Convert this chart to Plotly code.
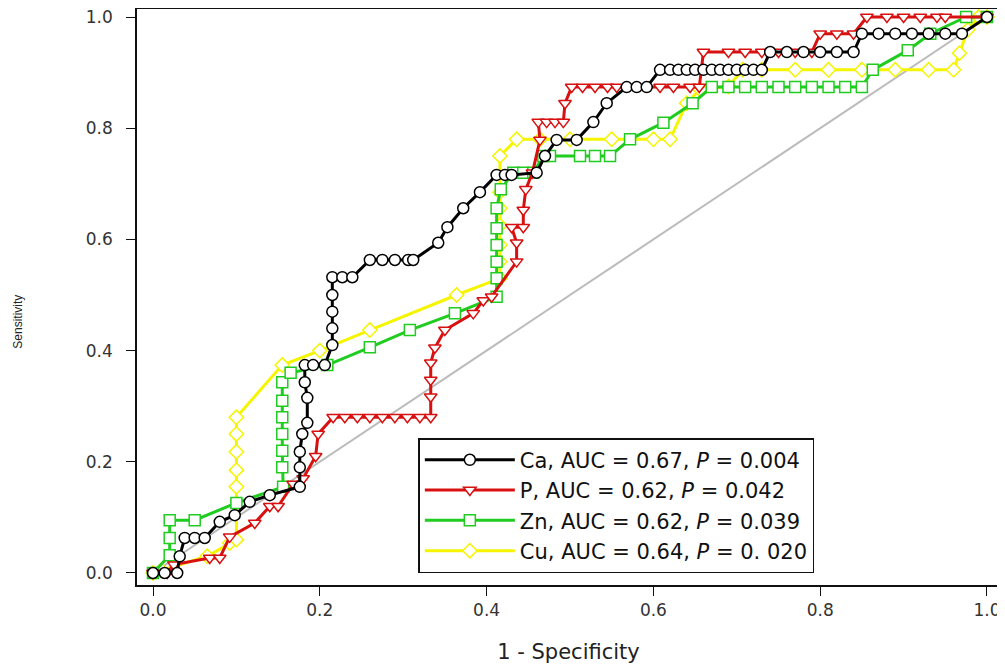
import plotly.graph_objects as go

# ---- data (1 - specificity, sensitivity) ----
ca_fpr = [0.0, 0.014, 0.029, 0.032, 0.038, 0.05, 0.062, 0.08, 0.098, 0.116, 0.14, 0.176, 0.176, 0.176,
          0.179, 0.185, 0.185, 0.182, 0.182, 0.192, 0.206, 0.215, 0.215, 0.215, 0.215, 0.215,
          0.227, 0.239, 0.26, 0.275, 0.29, 0.306, 0.312, 0.342, 0.353, 0.372, 0.392, 0.412, 0.422,
          0.43, 0.46, 0.47, 0.484, 0.508, 0.528, 0.544, 0.568, 0.58, 0.592, 0.608, 0.62, 0.63, 0.64,
          0.65, 0.66, 0.67, 0.68, 0.69, 0.70, 0.71, 0.72, 0.73, 0.74, 0.76, 0.78, 0.80, 0.82, 0.84,
          0.85, 0.87, 0.89, 0.91, 0.93, 0.95, 0.97, 1.0]
ca_tpr = [0.0, 0.0, 0.0, 0.03, 0.063, 0.063, 0.063, 0.092, 0.104, 0.128, 0.14, 0.155, 0.19, 0.218,
          0.25, 0.27, 0.315, 0.343, 0.374, 0.374, 0.374, 0.41, 0.44, 0.47, 0.50, 0.532,
          0.532, 0.532, 0.563, 0.563, 0.563, 0.563, 0.563, 0.594, 0.622, 0.656, 0.685, 0.716, 0.716,
          0.716, 0.72, 0.75, 0.779, 0.779, 0.811, 0.845, 0.874, 0.874, 0.874, 0.905, 0.905, 0.905, 0.905,
          0.905, 0.905, 0.905, 0.905, 0.905, 0.905, 0.905, 0.905, 0.905, 0.937, 0.937, 0.937, 0.937, 0.937, 0.937,
          0.97, 0.97, 0.97, 0.97, 0.97, 0.97, 0.97, 1.0]

p_fpr = [0.0, 0.017, 0.025, 0.068, 0.08, 0.092, 0.122, 0.14, 0.15, 0.168, 0.18, 0.195, 0.198, 0.216,
         0.23, 0.245, 0.26, 0.275, 0.29, 0.305, 0.32, 0.333, 0.333, 0.333, 0.333, 0.338, 0.35,
         0.384, 0.396, 0.406, 0.436, 0.436, 0.43, 0.444, 0.444, 0.447, 0.455, 0.464, 0.462, 0.472,
         0.482, 0.492, 0.494, 0.502, 0.515, 0.53, 0.545, 0.556, 0.608, 0.624, 0.644, 0.655, 0.66,
         0.69, 0.71, 0.73, 0.75, 0.77, 0.79, 0.80, 0.82, 0.84, 0.856, 0.88, 0.90, 0.92, 0.94, 0.95, 1.0]
p_tpr = [0.0, 0.0, 0.015, 0.027, 0.027, 0.065, 0.09, 0.12, 0.12, 0.16, 0.17, 0.21, 0.25, 0.28,
         0.28, 0.28, 0.28, 0.28, 0.28, 0.28, 0.28, 0.28, 0.317, 0.347, 0.378, 0.405, 0.437,
         0.467, 0.49, 0.497, 0.56, 0.594, 0.622, 0.622, 0.653, 0.69, 0.72, 0.779, 0.811, 0.811,
         0.811, 0.811, 0.845, 0.874, 0.874, 0.874, 0.874, 0.874, 0.874, 0.874, 0.874, 0.874, 0.937,
         0.937, 0.937, 0.937, 0.937, 0.937, 0.937, 0.97, 0.97, 0.97, 1.0, 1.0, 1.0, 1.0, 1.0, 1.0, 1.0]

zn_fpr = [0.0, 0.02, 0.02, 0.02, 0.05, 0.1, 0.156, 0.155, 0.155, 0.155, 0.155, 0.155, 0.155, 0.165,
          0.209, 0.26, 0.308, 0.362, 0.412, 0.412, 0.412, 0.412, 0.412, 0.412, 0.417, 0.432, 0.444,
          0.456, 0.468, 0.476, 0.512, 0.53, 0.548, 0.572, 0.612, 0.647, 0.67, 0.69, 0.71, 0.73, 0.75,
          0.77, 0.79, 0.81, 0.83, 0.85, 0.863, 0.905, 0.932, 0.975, 1.0]
zn_tpr = [0.0, 0.032, 0.063, 0.095, 0.095, 0.126, 0.155, 0.19, 0.22, 0.25, 0.28, 0.31, 0.343, 0.36,
          0.374, 0.406, 0.437, 0.467, 0.497, 0.53, 0.56, 0.59, 0.62, 0.656, 0.69, 0.72, 0.72,
          0.72, 0.75, 0.75, 0.75, 0.75, 0.75, 0.78, 0.81, 0.845, 0.874, 0.874, 0.874, 0.874, 0.874,
          0.874, 0.874, 0.874, 0.874, 0.874, 0.905, 0.94, 0.97, 1.0, 1.0]

cu_fpr = [0.0, 0.01, 0.065, 0.092, 0.1, 0.1, 0.1, 0.1, 0.1, 0.1, 0.155, 0.2, 0.26, 0.364, 0.416,
          0.416, 0.416, 0.416, 0.416, 0.416, 0.416, 0.436, 0.464, 0.5, 0.55, 0.6, 0.62, 0.64, 0.656,
          0.69, 0.707, 0.73, 0.77, 0.81, 0.85, 0.89, 0.93, 0.96, 0.967, 0.977, 0.99, 1.0]
cu_tpr = [0.0, 0.005, 0.03, 0.054, 0.06, 0.155, 0.185, 0.218, 0.25, 0.28, 0.374, 0.40, 0.437, 0.5, 0.53,
          0.56, 0.59, 0.625, 0.656, 0.685, 0.75, 0.78, 0.78, 0.78, 0.78, 0.78, 0.78, 0.845, 0.87,
          0.875, 0.905, 0.905, 0.905, 0.905, 0.905, 0.905, 0.905, 0.905, 0.935, 0.977, 1.0, 1.0]

ref_x = [0.0, 1.0]
ref_y = [0.0, 1.0]

labels = [
    "Ca, AUC = 0.67, <i>P</i> = 0.004",
    "P, AUC = 0.62, <i>P</i> = 0.042",
    "Zn, AUC = 0.62, <i>P</i> = 0.039",
    "Cu, AUC = 0.64, <i>P</i> = 0. 020",
]
tick_vals = [0, 0.2, 0.4, 0.6, 0.8, 1.0]
tick_text = ["0.0", "0.2", "0.4", "0.6", "0.8", "1.0"]
colors = ["#000000", "#D81010", "#1FCC1F", "#F5F500"]
symbols = ["circle", "triangle-down", "square", "diamond"]

FONT = "'DejaVu Sans', Arial, sans-serif"
FONT2 = "Arial, 'Liberation Sans', sans-serif"

fig = go.Figure()
fig.add_trace(go.Scatter(x=ref_x, y=ref_y, mode="lines",
                         line=dict(color="#BBBBBB", width=2), showlegend=False, hoverinfo="skip"))

series = [(ca_fpr, ca_tpr), (p_fpr, p_tpr), (zn_fpr, zn_tpr), (cu_fpr, cu_tpr)]
order = [3, 2, 1, 0]  # black drawn on top
for i in order:
    xs, ys = series[i]
    fig.add_trace(go.Scatter(
        x=xs, y=ys, mode="lines+markers", name=labels[i],
        line=dict(color=colors[i], width=3),
        marker=dict(symbol=symbols[i], size=11, color="white",
                    line=dict(color=colors[i], width=1.5)),
        legendrank=i + 1,
    ))

# page has an 8px body margin: figure is drawn 8px right/down of the page origin
fig.update_layout(
    width=997, height=661,
    margin=dict(l=129, r=5, t=1, b=84, autoexpand=False),
    paper_bgcolor="white", plot_bgcolor="white",
    font=dict(family=FONT, size=16, color="#222222"),
    showlegend=True,
    legend=dict(x=0.326, y=0.255, xanchor="left", yanchor="top",
                bordercolor="#111111", borderwidth=1.5, bgcolor="white",
                font=dict(family=FONT, size=21, color="#111111"),
                itemwidth=90, tracegroupgap=0),
    annotations=[dict(text="Sensitivity", textangle=-90, xref="paper", yref="paper",
                      x=-0.138, y=0.457, xanchor="center", yanchor="middle", showarrow=False,
                      font=dict(family=FONT2, size=12, color="#222222"))],
)
fig.update_xaxes(range=[-0.0192, 1.0156], tickvals=tick_vals, ticktext=tick_text,
                 automargin=False, ticklabeloverflow="allow",
                 ticks="outside", ticklen=9, tickwidth=1.2, tickcolor="#111111",
                 showline=True, linecolor="#111111", linewidth=1.5, mirror=True,
                 showgrid=False, zeroline=False,
                 tickfont=dict(family=FONT, size=17, color="#333333"),
                 title=dict(text="1 - Specificity", font=dict(family=FONT, size=21, color="#222222"),
                            standoff=25))
fig.update_yaxes(range=[-0.0216, 1.0144], tickvals=tick_vals, ticktext=tick_text,
                 automargin=False, ticklabeloverflow="allow",
                 ticks="outside", ticklen=9, tickwidth=1.2, tickcolor="#111111",
                 showline=True, linecolor="#111111", linewidth=1.5, mirror=True,
                 showgrid=False, zeroline=False, ticklabelstandoff=10,
                 tickfont=dict(family=FONT, size=17, color="#333333"))

fig.write_html("out.html")
